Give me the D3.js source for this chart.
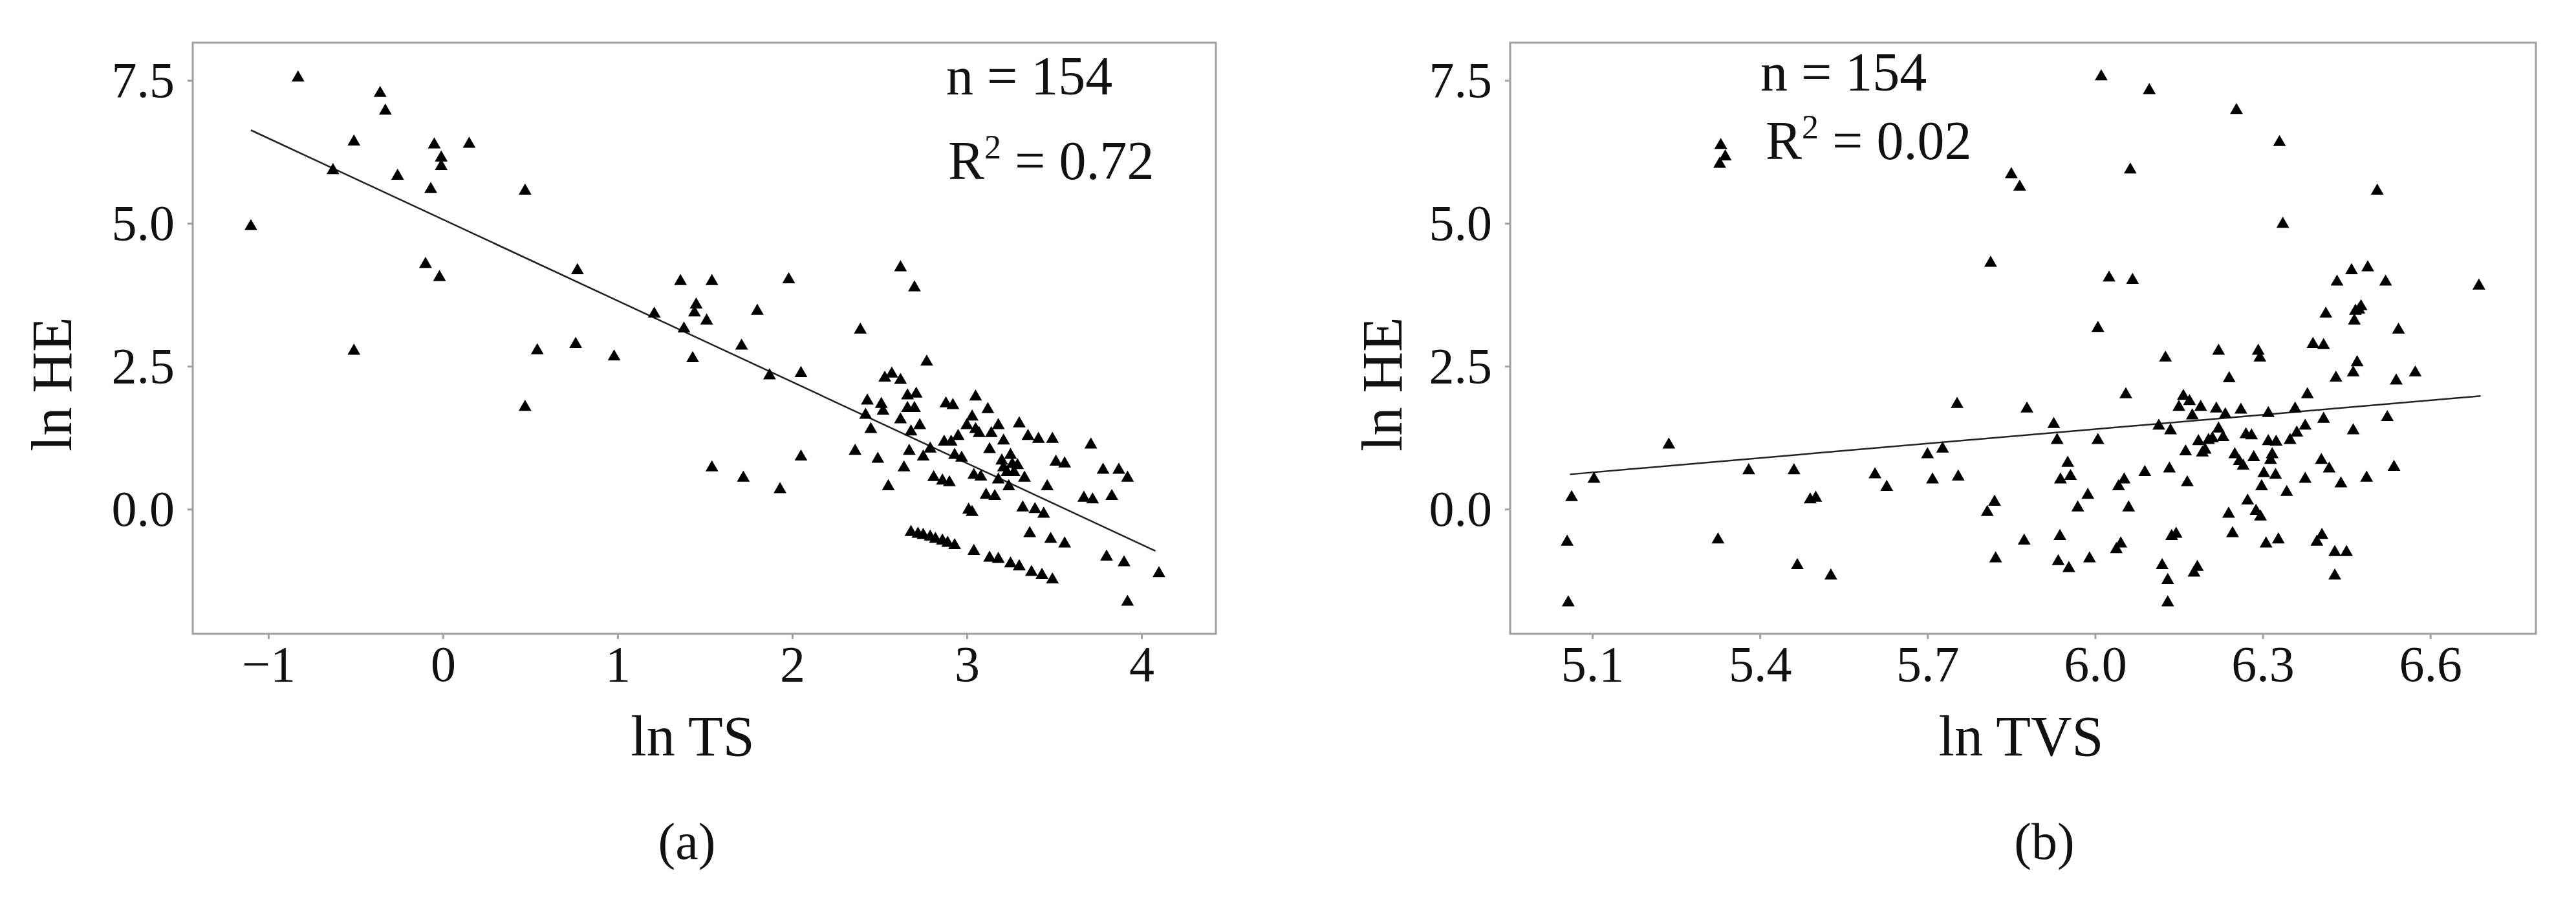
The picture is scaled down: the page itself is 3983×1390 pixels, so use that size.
<!DOCTYPE html>
<html><head><meta charset="utf-8">
<script src="https://cdn.jsdelivr.net/npm/d3@7"></script>
<style>body{margin:0;background:#fff}</style>
</head><body>
<script>
// panel (a): ln TS vs ln HE
const tsX = [-0.83,-1.10,-0.63,-0.51,-0.36,-0.33,-0.26,-0.51,-0.07,-0.05,-0.01,-0.01,0.15,-0.10,-0.02,0.47,0.47,0.54,0.76,0.77,0.98,1.21,1.36,1.38,1.45,1.44,1.43,1.51,1.54,1.54,1.71,1.72,1.80,1.87,1.93,1.98,2.05,2.05,2.36,2.39,2.42,2.43,2.45,2.49,2.51,2.52,2.53,2.55,2.57,2.62,2.62,2.62,2.64,2.66,2.66,2.67,2.68,2.70,2.70,2.71,2.73,2.77,2.75,2.79,2.81,2.86,2.87,2.88,2.90,2.91,2.92,2.93,2.95,2.97,3.00,3.01,3.03,3.03,3.04,3.05,3.05,3.07,3.08,3.11,3.12,3.14,3.13,3.16,3.18,3.18,3.20,3.21,3.21,3.23,3.24,3.25,3.26,3.27,3.29,3.30,3.33,3.32,3.35,3.36,3.39,3.41,3.44,3.46,3.48,3.49,3.51,3.56,3.56,3.67,3.71,3.72,3.78,3.80,3.83,3.87,3.90,3.92,3.92,4.10,2.68,2.72,2.75,2.79,2.82,2.86,2.89,2.93,3.04,3.13,3.18,3.25,3.30,3.37,3.43,3.49];
const tsY = [7.58,4.98,5.96,6.46,7.31,7.00,5.86,2.80,5.63,6.41,6.18,6.03,6.42,4.32,4.09,5.60,1.82,2.81,2.92,4.21,2.70,3.45,4.02,3.19,3.61,3.47,2.67,3.33,4.02,0.76,2.89,0.58,3.50,2.37,0.38,4.05,2.41,0.95,1.05,3.17,1.68,1.93,1.43,0.91,1.87,1.75,2.33,0.43,2.40,2.29,4.26,1.60,0.76,2.02,1.80,1.05,1.39,3.91,1.80,2.05,1.50,2.61,0.95,1.09,0.59,0.53,1.21,1.88,0.50,1.21,1.85,0.98,1.31,0.93,1.50,0.02,-0.02,1.65,0.63,2.00,1.43,1.36,0.60,0.28,1.78,1.36,1.08,0.26,1.50,0.55,0.88,1.23,0.76,0.68,0.43,0.98,0.82,0.68,0.80,1.53,0.58,0.06,1.31,-0.39,0.03,1.26,-0.05,0.43,-0.49,1.26,0.86,0.83,-0.57,0.23,1.16,0.20,0.72,-0.80,0.26,0.72,-0.90,-1.59,0.58,-1.09,-0.37,-0.40,-0.42,-0.45,-0.49,-0.52,-0.56,-0.60,-0.70,-0.82,-0.84,-0.92,-0.97,-1.07,-1.12,-1.20];
const fitA = [[-1.10,6.63],[4.08,-0.73]];

// panel (b): ln TVS vs ln HE
const tvsX = [5.055,5.057,5.063,5.103,5.237,5.325,5.33,5.328,5.338,5.38,5.461,5.467,5.49,5.50,5.527,5.606,5.627,5.70,5.709,5.727,5.753,5.755,5.807,5.813,5.82,5.822,5.85,5.865,5.873,5.878,5.926,5.932,5.937,5.934,5.938,5.951,5.953,5.956,5.969,5.987,5.99,6.005,6.005,6.011,6.025,6.038,6.042,6.046,6.052,6.055,6.06,6.063,6.067,6.089,6.097,6.114,6.12,6.126,6.13,6.13,6.133,6.135,6.137,6.145,6.15,6.158,6.162,6.165,6.169,6.174,6.177,6.183,6.185,6.189,6.192,6.197,6.203,6.21,6.217,6.221,6.221,6.229,6.233,6.239,6.24,6.246,6.25,6.253,6.258,6.261,6.265,6.27,6.273,6.28,6.284,6.288,6.292,6.295,6.296,6.298,6.302,6.306,6.31,6.31,6.314,6.317,6.323,6.324,6.328,6.33,6.336,6.343,6.349,6.358,6.361,6.376,6.376,6.38,6.39,6.397,6.405,6.406,6.409,6.409,6.413,6.419,6.429,6.429,6.431,6.433,6.44,6.45,6.459,6.462,6.462,6.464,6.469,6.466,6.472,6.476,6.486,6.488,6.505,6.52,6.523,6.535,6.539,6.543,6.573,6.687];
const tvsY = [-0.54,-1.60,0.24,0.56,1.16,-0.50,6.40,6.07,6.20,0.71,0.71,-0.95,0.20,0.23,-1.13,0.64,0.42,0.99,0.55,1.09,1.87,0.60,-0.02,4.34,0.16,-0.83,5.89,5.67,-0.52,1.79,1.52,1.24,-0.44,-0.88,0.55,0.84,-1.00,0.61,0.06,0.28,-0.83,1.24,3.20,7.60,4.08,-0.67,0.43,-0.57,0.55,2.04,0.06,5.97,4.04,0.68,7.36,1.49,-0.95,2.68,-1.21,-1.60,0.74,1.41,-0.44,-0.40,1.82,2.01,1.04,0.50,1.92,1.67,-1.08,-0.98,1.22,1.82,1.02,1.07,1.24,1.27,1.79,2.80,1.44,1.29,1.69,-0.05,2.32,-0.39,0.99,7.01,0.87,1.77,0.79,1.34,0.18,1.32,0.94,0.00,2.80,2.68,-0.10,0.43,0.66,-0.57,1.71,1.22,0.89,0.99,0.63,1.21,-0.50,6.45,5.02,0.33,1.24,1.79,1.37,1.49,0.56,2.04,2.92,-0.54,0.89,-0.42,2.90,1.61,3.45,0.74,-1.13,-0.72,2.33,4.01,0.48,-0.72,4.21,1.41,2.42,3.33,2.60,3.50,3.52,3.58,0.58,4.26,5.60,4.01,1.64,0.77,2.28,3.17,2.42,3.94];
const fitB = [[5.06,0.61],[6.69,1.98]];

const yTicks = [0, 2.5, 5, 7.5];
const xTicksA = [-1, 0, 1, 2, 3, 4];
const xTicksB = [5.1, 5.4, 5.7, 6.0, 6.3, 6.6];

const W = 3983, H = 1390;
const TOP = 66, BOT = 980;
const svg = d3.select("body").append("svg").attr("width", W).attr("height", H);
const font = "'Liberation Serif', 'DejaVu Serif', serif";

function panel(o) {
  const x = d3.scaleLinear().domain(o.xdom).range([o.left, o.right]);
  const y = d3.scaleLinear().domain([-2.18, 8.16]).range([BOT, TOP]);
  const g = svg.append("g");

  g.append("rect").attr("x", o.left).attr("y", TOP).attr("width", o.right - o.left).attr("height", BOT - TOP)
    .attr("fill", "none").attr("stroke", "#a0a0a0").attr("stroke-width", 3);

  const ax = g.append("g").attr("transform", `translate(0,${BOT})`)
    .call(d3.axisBottom(x).tickValues(o.xticks).tickFormat(o.fmt).tickSize(8).tickPadding(10));
  const ay = g.append("g").attr("transform", `translate(${o.left},0)`)
    .call(d3.axisLeft(y).tickValues(yTicks).tickFormat(d3.format(".1f")).tickSize(8).tickPadding(20));
  [ax, ay].forEach(a => {
    a.select(".domain").remove();
    a.selectAll("line").attr("stroke", "#a0a0a0").attr("stroke-width", 3);
    a.selectAll("text").attr("font-family", font).attr("font-size", 78).attr("fill", "#111");
  });

  g.append("line").attr("x1", x(o.fit[0][0])).attr("y1", y(o.fit[0][1]))
    .attr("x2", x(o.fit[1][0])).attr("y2", y(o.fit[1][1])).attr("stroke", "#222").attr("stroke-width", 2.5);

  const tri = d3.symbol().type(d3.symbolTriangle).size(170);
  g.selectAll("path.pt").data(o.xs).join("path").attr("class", "pt")
    .attr("d", tri).attr("fill", "#000")
    .attr("transform", (d, i) => `translate(${x(d)},${y(o.ys[i]) + 3})`);

  const t = (txt, px, py, size) => g.append("text").attr("x", px).attr("y", py)
    .attr("font-family", font).attr("font-size", size).attr("fill", "#111").text(txt);
  t(o.xlabel, o.xlabx, 1168, 88).attr("text-anchor", "middle");
  g.append("text").attr("transform", `translate(${o.ylabx},594) rotate(-90)`)
    .attr("text-anchor", "middle").attr("font-family", font).attr("font-size", 88).attr("fill", "#111").text("ln HE");
  t("n = 154", o.nx, o.ny, 84);
  const r = t("R", o.rx, o.ry, 84);
  r.append("tspan").attr("font-size", 52).attr("dy", -32).text("2");
  r.append("tspan").attr("dy", 32).text(" = " + o.r2);
  t(o.tag, o.tagx, 1328, 80).attr("text-anchor", "middle");
}

panel({xdom: [-1.433, 4.426], left: 298, right: 1880, xticks: xTicksA, fmt: d3.format("d"),
  xs: tsX, ys: tsY, fit: fitA, xlabel: "ln TS", xlabx: 1071, ylabx: 110,
  nx: 1463, ny: 146, rx: 1466, ry: 277, r2: "0.72", tag: "(a)", tagx: 1062});
panel({xdom: [4.953, 6.789], left: 2335, right: 3921, xticks: xTicksB, fmt: d3.format(".1f"),
  xs: tvsX, ys: tvsY, fit: fitB, xlabel: "ln TVS", xlabx: 3125, ylabx: 2167,
  nx: 2722, ny: 140, rx: 2730, ry: 246, r2: "0.02", tag: "(b)", tagx: 3161});
</script>
</body></html>
